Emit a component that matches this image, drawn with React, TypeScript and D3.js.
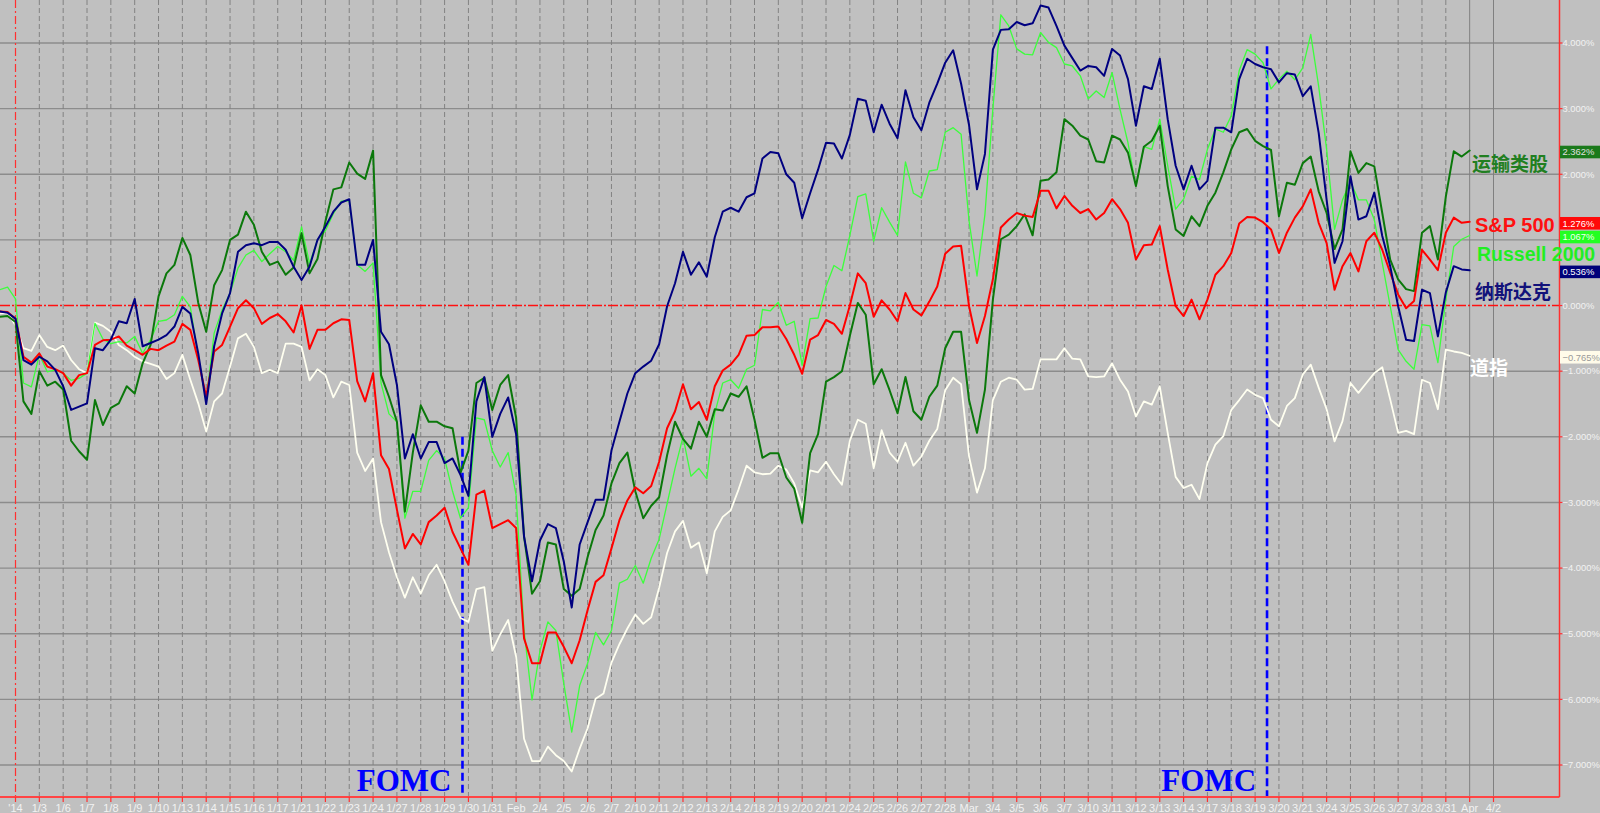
import React from 'react';
import * as d3 from 'd3';

// ---------- DATA ----------
// Trading-day tick labels (index = trading day; '14 = Jan 2 2014)
const TICK_LABELS = ["'14","1/3","1/6","1/7","1/8","1/9","1/10","1/13","1/14","1/15","1/16","1/17","1/21","1/22","1/23","1/24","1/27","1/28","1/29","1/30","1/31","Feb","2/4","2/5","2/6","2/7","2/10","2/11","2/12","2/13","2/14","2/18","2/19","2/20","2/21","2/24","2/25","2/26","2/27","2/28","Mar","3/4","3/5","3/6","3/7","3/10","3/11","3/12","3/13","3/14","3/17","3/18","3/19","3/20","3/21","3/24","3/25","3/26","3/27","3/28","3/31","Apr","4/2"];
const LAST_DATA_DAY = 60; // 3/31

// samples every 1/3 trading day, starting at t = -2/3 (Dec 31 session)
const T_START = -2 / 3;
const T_STEP = 1 / 3;

const NASDAQ = [
-0.09,-0.11,
-0.20,-0.83,-0.90, -0.78,-0.85,-0.98, -1.23,-1.59,-1.54, -1.49,-0.65,-0.68, -0.52,-0.24,-0.27,
0.10,-0.62,-0.57, -0.52,-0.45,-0.32, -0.02,-0.12,-0.73, -1.50,-0.62,-0.12, 0.19,0.82,0.92,
0.95,0.92,0.97, 0.97,0.85,0.59, 0.39,0.59,1.00, 1.20,1.43,1.57, 1.62,0.62,0.62,
1.00,-0.40,-0.59, -1.21,-2.33,-1.96, -2.33,-2.08,-2.08, -2.40,-2.33,-2.58, -2.90,-1.46,-1.09,
-2.00,-1.65,-1.40, -1.96,-3.52,-4.20, -3.58,-3.33,-3.39, -3.90,-4.60,-3.64, -3.30,-2.96,-2.96,
-2.21,-1.77,-1.34, -1.03,-0.93,-0.84, -0.59,-0.01,0.34, 0.82,0.47,0.66, 0.44,1.04,1.43,
1.49,1.43,1.65, 1.71,2.24,2.34, 2.32,2.00,1.87, 1.33,1.71,2.07, 2.48,2.47,2.24,
2.60,3.15,3.12, 2.64,3.06,2.77, 2.55,3.28,2.87, 2.67,3.09,3.38, 3.70,3.89,3.38,
2.75,1.77,2.31, 3.90,4.20,4.21, 4.32,4.27,4.30, 4.57,4.54,4.26, 3.96,3.77,3.58,
3.65,3.63,3.50, 3.91,3.81,3.45, 2.74,3.34,3.30, 3.76,2.84,2.13, 1.77,2.13,1.77,
1.90,2.71,2.71, 2.64,3.45,3.76, 3.68,3.63,3.60, 3.40,3.54,3.52, 3.19,3.34,2.63,
1.61,0.65,0.98, 1.97,1.31,1.36, 1.72,1.06,0.60, -0.01,-0.52,-0.54, 0.24,0.19,-0.47,
0.20,0.60,0.55,
0.536];

const SP500 = [
-0.09,-0.10,
-0.20,-0.78,-0.87, -0.73,-0.93,-0.97, -1.03,-1.22,-1.06, -1.03,-0.60,-0.53, -0.52,-0.47,-0.61,
-0.68,-0.75,-0.66, -0.68,-0.61,-0.55, -0.28,-0.37,-0.83, -1.39,-0.70,-0.60, -0.32,-0.04,0.08,
-0.04,-0.28,-0.19, -0.13,-0.24,-0.41, 0.00,-0.66,-0.37, -0.37,-0.27,-0.21, -0.22,-1.15,-1.46,
-1.03,-2.28,-2.49, -3.11,-3.70,-3.48, -3.64,-3.30,-3.20, -3.08,-3.45,-3.70, -3.95,-2.88,-2.82,
-3.39,-3.33,-3.27, -3.39,-5.07,-5.45, -5.45,-4.98,-4.98, -5.20,-5.45,-5.10, -4.64,-4.21,-4.11,
-3.70,-3.27,-2.97, -2.77,-2.86,-2.75, -2.38,-1.87,-1.61, -1.20,-1.58,-1.47, -1.74,-1.23,-0.99,
-0.90,-0.75,-0.46, -0.45,-0.33,-0.33, -0.32,-0.51,-0.75, -1.04,-0.52,-0.45, -0.22,-0.28,-0.43,
0.00,0.49,0.34, -0.17,0.08,-0.06, -0.24,0.19,-0.06, -0.15,0.06,0.29, 0.79,0.90,0.91,
-0.01,-0.57,-0.16, 0.40,1.19,1.31, 1.41,1.37,1.35, 1.75,1.75,1.48, 1.67,1.52,1.41,
1.47,1.31,1.41, 1.62,1.47,1.26, 0.70,0.92,0.93, 1.21,0.55,-0.01, -0.16,0.09,-0.21,
0.09,0.47,0.60, 0.80,1.25,1.35, 1.34,1.27,1.16, 0.80,1.11,1.34, 1.51,1.77,1.26,
0.95,0.24,0.60, 0.80,0.52,0.98, 1.11,0.85,0.50, 0.17,-0.04,0.07, 0.85,0.70,0.54,
1.11,1.34,1.26,
1.276];

const RUSSELL = [
0.24,0.28,
0.10,-1.18,-1.24, -0.75,-1.01,-0.98, -1.03,-1.14,-1.11, -1.03,-0.27,-0.51, -0.58,-0.55,-0.57,
-0.47,-0.73,-0.52, -0.24,-0.22,-0.14, 0.14,-0.02,-0.78, -1.44,-0.42,-0.07, 0.19,0.57,0.77,
0.84,0.67,0.79, 0.90,0.82,0.69, 1.20,0.64,1.00, 1.14,1.40,1.59, 1.60,0.62,0.52,
0.65,-1.18,-1.65, -1.77,-3.24,-2.83, -2.83,-2.36,-2.21, -2.33,-2.83,-3.24, -3.08,-1.71,-1.74,
-2.21,-2.46,-2.24, -2.89,-4.95,-6.01, -5.26,-4.82,-4.95, -5.76,-6.50,-5.79, -5.45,-4.98,-5.17,
-4.95,-4.23,-4.17, -3.96,-4.23,-3.85, -3.56,-3.02,-2.48, -2.00,-2.60,-2.48, -2.64,-1.64,-1.18,
-1.13,-1.26,-0.97, -0.91,-0.06,-0.08, 0.05,-0.30,-0.24, -0.91,-0.20,-0.19, 0.29,0.61,0.53,
1.07,1.66,1.70, 0.98,1.49,1.27, 1.07,2.19,1.71, 1.64,2.05,2.07, 2.64,2.71,2.61,
1.29,0.45,1.39, 3.00,4.43,4.26, 3.91,3.83,3.82, 4.16,4.01,3.93, 3.68,3.65,3.50,
3.15,3.27,3.17, 3.55,2.99,2.48, 1.82,2.42,2.38, 2.84,2.13,1.47, 1.62,1.97,1.92,
2.38,2.69,2.64, 2.89,3.58,3.90, 3.83,3.70,3.30, 3.45,3.57,3.44, 3.62,4.13,3.34,
2.38,1.16,1.61, 1.89,1.61,1.61, 1.31,0.65,-0.01, -0.67,-0.85,-0.97, -0.29,-0.31,-0.87,
0.09,0.90,1.01,
1.067];

const TRANSPORTS = [
-0.17,-0.16,
-0.25,-1.46,-1.65, -1.00,-1.22,-1.16, -1.28,-2.06,-2.22, -2.35,-1.44,-1.82, -1.56,-1.49,-1.23,
-1.34,-0.88,-0.60, 0.14,0.49,0.62, 1.03,0.77,0.04, -0.40,0.31,0.54, 1.00,1.08,1.43,
1.23,0.82,0.62, 0.67,0.47,0.58, 1.10,0.49,0.71, 1.28,1.77,1.80, 2.18,2.01,1.93,
2.36,-1.06,-1.39, -1.77,-3.14,-2.24, -1.52,-1.77,-1.77, -1.84,-1.87,-2.55, -2.21,-1.18,-1.10,
-1.59,-1.21,-1.06, -1.71,-3.52,-4.39, -4.20,-3.61,-3.64, -4.32,-4.42,-4.32, -3.83,-3.42,-3.20,
-2.71,-2.40,-2.24, -2.83,-3.24,-3.05, -2.92,-2.28,-1.77, -2.03,-2.18,-1.77, -2.00,-1.58,-1.60,
-1.34,-1.39,-1.23, -1.74,-2.32,-2.25, -2.25,-2.62,-2.79, -3.31,-2.25,-1.96, -1.16,-1.09,-1.00,
-0.46,0.04,-0.14, -1.20,-0.97,-1.29, -1.64,-1.09,-1.61, -1.74,-1.39,-1.22, -0.65,-0.40,-0.40,
-1.44,-1.94,-1.28, 0.09,1.01,1.08, 1.21,1.39,1.07, 1.90,1.92,2.03, 2.84,2.74,2.59,
2.53,2.20,2.18, 2.59,2.53,2.33, 1.82,2.42,2.51, 2.74,1.82,1.16, 1.06,1.36,1.21,
1.52,1.72,2.03, 2.38,2.64,2.69, 2.51,2.43,2.37, 1.36,1.87,1.84, 2.17,2.27,1.74,
1.41,0.86,1.16, 2.35,2.02,2.17, 2.12,1.41,0.70, 0.40,0.25,0.22, 1.11,1.21,0.70,
1.66,2.35,2.27,
2.362];

const DOW = [
-0.12,-0.11,
-0.30,-0.65,-0.69, -0.45,-0.63,-0.68, -0.61,-0.83,-0.97, -1.03,-0.26,-0.31, -0.40,-0.60,-0.68,
-0.78,-0.85,-0.89, -0.93,-1.12,-1.03, -0.75,-1.13,-1.49, -1.92,-1.46,-1.34, -0.93,-0.50,-0.43,
-0.63,-1.03,-0.98, -1.03,-0.58,-0.58, -0.63,-1.14,-0.97, -1.06,-1.40,-1.16, -1.21,-2.24,-2.52,
-2.33,-3.30,-3.76, -4.14,-4.45,-4.14, -4.39,-4.11,-3.95, -4.20,-4.51,-4.76, -4.82,-4.32,-4.29,
-5.26,-5.01,-4.79, -5.35,-6.60,-6.94, -6.94,-6.72,-6.85, -6.94,-7.10,-6.75, -6.44,-5.99,-5.91,
-5.44,-5.16,-4.92, -4.71,-4.85,-4.75, -4.30,-3.77,-3.44, -3.28,-3.69,-3.61, -4.08,-3.44,-3.22,
-3.12,-2.80,-2.44, -2.54,-2.57,-2.56, -2.44,-2.50,-2.71, -3.08,-2.51,-2.54, -2.38,-2.57,-2.73,
-2.06,-1.74,-1.80, -2.48,-1.90,-2.24, -2.38,-2.09,-2.44, -2.30,-2.06,-1.88, -1.29,-1.10,-1.20,
-2.30,-2.85,-2.48, -1.44,-1.16,-1.10, -1.13,-1.28,-1.27, -0.82,-0.82,-0.82, -0.65,-0.81,-0.82,
-1.08,-1.09,-1.08, -0.88,-1.13,-1.31, -1.69,-1.46,-1.51, -1.23,-1.94,-2.61, -2.78,-2.73,-2.95,
-2.40,-2.12,-1.99, -1.59,-1.44,-1.28, -1.36,-1.41,-1.74, -1.84,-1.53,-1.41, -1.05,-0.90,-1.25,
-1.58,-2.07,-1.76, -1.18,-1.33,-1.18, -1.03,-0.94,-1.43, -1.94,-1.91,-1.96, -1.13,-1.18,-1.58,
-0.67,-0.70,-0.72,
-0.765];

const Y_TICKS = [4, 3, 2, 1, 0, -1, -2, -3, -4, -5, -6, -7];
const FOMC_DAYS = [18.75, 52.5];
const FOMC_TOPS = [-2.0, 3.95];

// ---------- LAYOUT ----------
const W = 1600, H = 813;
const PLOT_RIGHT = 1559.5;
const PLOT_BOTTOM = 797;

const x = d3.scaleLinear().domain([0, 62]).range([15.5, 1493.5]);
const y = d3.scaleLinear().domain([-7, 4]).range([765, 43]);

const fmtPct = (v: number) => d3.format('.3f')(v) + '%';

type Series = {
  key: string; values: number[]; color: string; width: number;
  badgeBg: string; badgeFg: string;
  label: string; lx: number; ly: number; lsize: number; lcolor: string; cjk: boolean;
};

const SERIES: Series[] = [
  { key: 'dow', values: DOW, color: '#fffff0', width: 1.8, badgeBg: '#fffbe9', badgeFg: '#9a9a9a',
    label: '道指', lx: 1470, ly: 375, lsize: 19, lcolor: '#ffffff', cjk: true },
  { key: 'rut', values: RUSSELL, color: '#3cff3c', width: 1.3, badgeBg: '#22ff22', badgeFg: '#f4fff4',
    label: 'Russell 2000', lx: 1477, ly: 261, lsize: 19.5, lcolor: '#22ee22', cjk: false },
  { key: 'trn', values: TRANSPORTS, color: '#0b780b', width: 2, badgeBg: '#1b7a1b', badgeFg: '#e0e0e0',
    label: '运输类股', lx: 1472, ly: 171, lsize: 19, lcolor: '#217f21', cjk: true },
  { key: 'spx', values: SP500, color: '#ff0000', width: 2, badgeBg: '#ff0a0a', badgeFg: '#ffffff',
    label: 'S&P 500', lx: 1475, ly: 232, lsize: 20, lcolor: '#ff1010', cjk: false },
  { key: 'ndx', values: NASDAQ, color: '#000080', width: 2, badgeBg: '#00007a', badgeFg: '#ffffff',
    label: '纳斯达克', lx: 1475, ly: 299, lsize: 19, lcolor: '#12127a', cjk: true },
];

export default function App() {
  const line = d3.line<number>()
    .x((_, i) => x(T_START + i * T_STEP))
    .y(v => y(v));

  const ticks = TICK_LABELS.map((lab, i) => ({ lab, i }));

  return (
    <svg width={W} height={H} style={{ position: 'absolute', left: 0, top: 0, background: '#c0c0c0' }}
      fontFamily="'Liberation Sans', Arial, sans-serif">
      <defs>
        <filter id="blur" x="-50%" y="-5%" width="200%" height="110%">
          <feGaussianBlur stdDeviation="1.4" />
        </filter>
        <clipPath id="plotClip"><rect x={0} y={0} width={PLOT_RIGHT} height={PLOT_BOTTOM} /></clipPath>
      </defs>
      <rect x={0} y={0} width={W} height={H} fill="#c0c0c0" />

      {/* horizontal gridlines */}
      {Y_TICKS.filter(v => v !== 0).map(v => (
        <line key={'h' + v} x1={0} x2={PLOT_RIGHT} y1={y(v)} y2={y(v)} stroke="#8c8c8c" strokeWidth={1.4} />
      ))}
      {/* vertical gridlines */}
      {ticks.filter(t => t.i > 0).map(t => (
        <line key={'v' + t.i} x1={x(t.i)} x2={x(t.i)} y1={0} y2={PLOT_BOTTOM}
          stroke={t.i <= LAST_DATA_DAY ? '#828282' : '#808080'} strokeWidth={1}
          strokeDasharray={t.i <= LAST_DATA_DAY ? '5 3' : undefined} />
      ))}
      {/* year boundary and zero line */}
      <line x1={x(0)} x2={x(0)} y1={0} y2={PLOT_BOTTOM} stroke="#ff3030" strokeWidth={1.2} strokeDasharray="8 3 2 3" />
      <line x1={0} x2={PLOT_RIGHT} y1={y(0)} y2={y(0)} stroke="#ff1010" strokeWidth={1.5} strokeDasharray="10 2 2 2" />

      {/* FOMC markers */}
      {FOMC_DAYS.map((d, i) => (
        <g key={'f' + i}>
          <line x1={x(d) + 3} x2={x(d) + 3} y1={y(FOMC_TOPS[i])} y2={PLOT_BOTTOM}
            stroke="#6e6e6e" strokeWidth={3} opacity={0.55} filter="url(#blur)" />
          <line x1={x(d)} x2={x(d)} y1={y(FOMC_TOPS[i])} y2={PLOT_BOTTOM}
            stroke="#0000ff" strokeWidth={2.6} strokeDasharray="8 4" />
          <text x={x(d) - 11} y={791} textAnchor="end" fill="#0000ff"
            fontFamily="'Liberation Serif', 'Times New Roman', serif" fontWeight="bold" fontSize={31}>FOMC</text>
        </g>
      ))}

      {/* series */}
      <g clipPath="url(#plotClip)">
        {SERIES.map(s => (
          <path key={s.key} d={line(s.values) || ''} fill="none" stroke={s.color}
            strokeWidth={s.width} strokeLinejoin="round" strokeLinecap="round" />
        ))}
      </g>

      {/* x axis */}
      <line x1={0} x2={PLOT_RIGHT} y1={PLOT_BOTTOM} y2={PLOT_BOTTOM} stroke="#ff4444" strokeWidth={2} />
      {ticks.map(t => (
        <g key={'xt' + t.i}>
          <line x1={x(t.i)} x2={x(t.i)} y1={PLOT_BOTTOM} y2={PLOT_BOTTOM + 5} stroke="#ff3030" strokeWidth={1.2} />
          <text x={x(t.i)} y={811.5} textAnchor="middle" fontSize={11} fill="#f2f2f2">{t.lab}</text>
        </g>
      ))}

      {/* right y axis */}
      <line x1={PLOT_RIGHT} x2={PLOT_RIGHT} y1={0} y2={PLOT_BOTTOM} stroke="#ff3030" strokeWidth={1.5} />
      {Y_TICKS.map(v => (
        <g key={'yt' + v}>
          <line x1={PLOT_RIGHT} x2={PLOT_RIGHT + 3} y1={y(v)} y2={y(v)} stroke="#ff3030" strokeWidth={1.2} />
          <text x={PLOT_RIGHT + 3} y={y(v)} dy="0.35em" fontSize={9.4} fill="#f2f2f2">{fmtPct(v)}</text>
        </g>
      ))}

      {/* last-value badges */}
      {SERIES.map(s => {
        const last = s.values[s.values.length - 1];
        const cy = y(last) + 1.5;
        return (
          <g key={'b' + s.key}>
            <rect x={PLOT_RIGHT + 0.5} y={cy - 6.3} width={W - PLOT_RIGHT} height={12.6} fill={s.badgeBg} />
            <text x={PLOT_RIGHT + 3} y={cy} dy="0.36em" fontSize={9.4} fill={s.badgeFg}>{fmtPct(last)}</text>
          </g>
        );
      })}

      {/* series labels */}
      {SERIES.map(s => (
        <text key={'l' + s.key} x={s.lx} y={s.ly} fontSize={s.lsize} fontWeight="bold" fill={s.lcolor}
          fontFamily={s.cjk ? "'Noto Sans CJK SC', sans-serif" : "'Liberation Sans', Arial, sans-serif"}>
          {s.label}
        </text>
      ))}
    </svg>
  );
}
